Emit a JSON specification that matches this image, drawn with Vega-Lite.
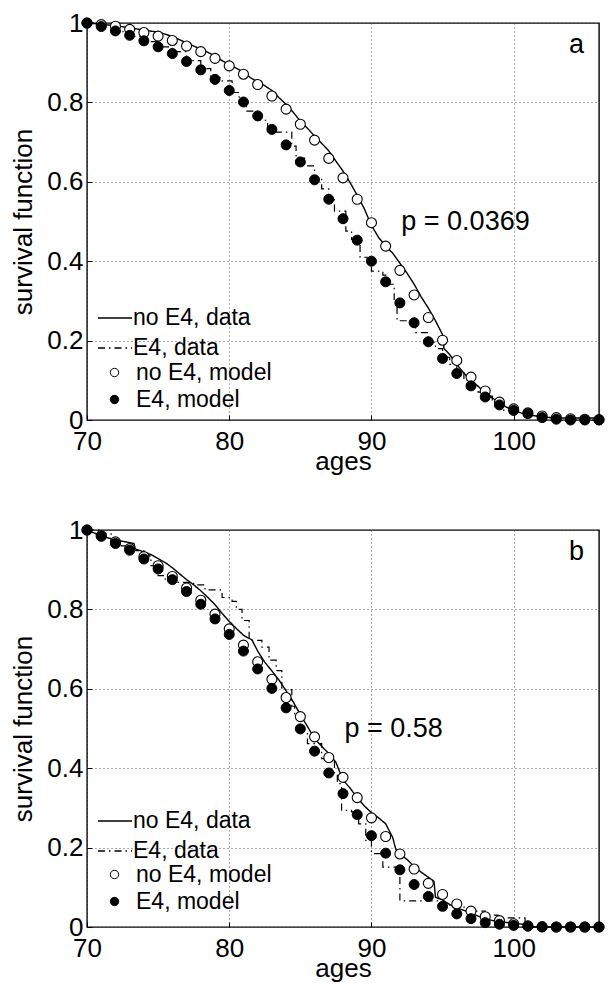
{
  "$schema": "https://vega.github.io/schema/vega-lite/v6.json",
  "background": "white",
  "padding": {"left": 10, "top": 9, "right": 5, "bottom": 5},
  "datasets": {
    "a_nd": [{"age":70,"s":1},{"age":71,"s":0.997},{"age":72,"s":0.993},{"age":73,"s":0.988},{"age":74,"s":0.982},{"age":75,"s":0.977},{"age":75.5,"s":0.972},{"age":76,"s":0.966},{"age":76.5,"s":0.958},{"age":77,"s":0.95},{"age":77.5,"s":0.942},{"age":78,"s":0.934},{"age":78.5,"s":0.926},{"age":79,"s":0.917},{"age":79.5,"s":0.905},{"age":80,"s":0.895},{"age":80.5,"s":0.886},{"age":81,"s":0.876},{"age":81.5,"s":0.862},{"age":82,"s":0.852},{"age":82.5,"s":0.842},{"age":83,"s":0.83},{"age":83.5,"s":0.812},{"age":84,"s":0.795},{"age":84.5,"s":0.775},{"age":85,"s":0.753},{"age":85.5,"s":0.735},{"age":86,"s":0.715},{"age":86.5,"s":0.697},{"age":87,"s":0.678},{"age":87.5,"s":0.652},{"age":88,"s":0.627},{"age":88.5,"s":0.598},{"age":89,"s":0.566},{"age":89.5,"s":0.532},{"age":90,"s":0.49},{"age":90.5,"s":0.46},{"age":91,"s":0.438},{"age":91.5,"s":0.42},{"age":92,"s":0.395},{"age":92.5,"s":0.37},{"age":93,"s":0.342},{"age":93.5,"s":0.31},{"age":94,"s":0.282},{"age":94.5,"s":0.25},{"age":95,"s":0.215},{"age":95.1,"s":0.18},{"age":95.5,"s":0.165},{"age":96,"s":0.14},{"age":96.5,"s":0.118},{"age":97,"s":0.1},{"age":97.5,"s":0.085},{"age":98,"s":0.068},{"age":98.5,"s":0.055},{"age":99,"s":0.045},{"age":99.5,"s":0.032},{"age":100,"s":0.025},{"age":100.5,"s":0.018},{"age":101,"s":0.013},{"age":102,"s":0.008},{"age":103,"s":0.005},{"age":106,"s":0.005}],
    "a_ed": [{"age":70,"s":1},{"age":71,"s":0.99},{"age":72,"s":0.978},{"age":73,"s":0.966},{"age":74,"s":0.953},{"age":75,"s":0.94},{"age":76,"s":0.928},{"age":77,"s":0.905},{"age":78,"s":0.885},{"age":78.7,"s":0.862},{"age":79.5,"s":0.854},{"age":80.2,"s":0.825},{"age":80.7,"s":0.8},{"age":81.2,"s":0.778},{"age":82,"s":0.755},{"age":82.7,"s":0.735},{"age":83.3,"s":0.725},{"age":84.4,"s":0.69},{"age":84.7,"s":0.66},{"age":85.3,"s":0.64},{"age":86,"s":0.61},{"age":86.5,"s":0.582},{"age":87,"s":0.555},{"age":87.4,"s":0.526},{"age":88.2,"s":0.476},{"age":88.6,"s":0.455},{"age":89.2,"s":0.41},{"age":89.7,"s":0.4},{"age":90,"s":0.375},{"age":90.8,"s":0.365},{"age":91.1,"s":0.342},{"age":91.6,"s":0.3},{"age":91.8,"s":0.25},{"age":92.8,"s":0.24},{"age":93.1,"s":0.22},{"age":94,"s":0.196},{"age":94.5,"s":0.18},{"age":95,"s":0.158},{"age":95.5,"s":0.14},{"age":96,"s":0.12},{"age":96.5,"s":0.1},{"age":97,"s":0.085},{"age":97.5,"s":0.07},{"age":98,"s":0.06},{"age":98.5,"s":0.05},{"age":99,"s":0.025},{"age":100,"s":0.02},{"age":101,"s":0.01},{"age":102,"s":0.005},{"age":103,"s":0},{"age":106,"s":0}],
    "a_nm": [{"age":70,"s":1},{"age":71,"s":0.996},{"age":72,"s":0.992},{"age":73,"s":0.984},{"age":74,"s":0.976},{"age":75,"s":0.967},{"age":76,"s":0.956},{"age":77,"s":0.942},{"age":78,"s":0.928},{"age":79,"s":0.911},{"age":80,"s":0.892},{"age":81,"s":0.871},{"age":82,"s":0.845},{"age":83,"s":0.816},{"age":84,"s":0.783},{"age":85,"s":0.745},{"age":86,"s":0.705},{"age":87,"s":0.659},{"age":88,"s":0.61},{"age":89,"s":0.556},{"age":90,"s":0.497},{"age":91,"s":0.438},{"age":92,"s":0.377},{"age":93,"s":0.315},{"age":94,"s":0.258},{"age":95,"s":0.201},{"age":96,"s":0.15},{"age":97,"s":0.108},{"age":98,"s":0.073},{"age":99,"s":0.045},{"age":100,"s":0.028},{"age":101,"s":0.018},{"age":102,"s":0.01},{"age":103,"s":0.006},{"age":104,"s":0.003},{"age":105,"s":0.002},{"age":106,"s":0.001}],
    "a_em": [{"age":70,"s":1},{"age":71,"s":0.991},{"age":72,"s":0.98},{"age":73,"s":0.969},{"age":74,"s":0.955},{"age":75,"s":0.94},{"age":76,"s":0.923},{"age":77,"s":0.903},{"age":78,"s":0.882},{"age":79,"s":0.858},{"age":80,"s":0.83},{"age":81,"s":0.801},{"age":82,"s":0.766},{"age":83,"s":0.732},{"age":84,"s":0.693},{"age":85,"s":0.65},{"age":86,"s":0.605},{"age":87,"s":0.556},{"age":88,"s":0.507},{"age":89,"s":0.453},{"age":90,"s":0.4},{"age":91,"s":0.348},{"age":92,"s":0.295},{"age":93,"s":0.245},{"age":94,"s":0.197},{"age":95,"s":0.155},{"age":96,"s":0.117},{"age":97,"s":0.086},{"age":98,"s":0.058},{"age":99,"s":0.038},{"age":100,"s":0.024},{"age":101,"s":0.016},{"age":102,"s":0.006},{"age":103,"s":0.002},{"age":104,"s":0},{"age":105,"s":0},{"age":106,"s":0}],
    "b_nd": [{"age":70,"s":1},{"age":71,"s":0.985},{"age":72,"s":0.975},{"age":73.3,"s":0.966},{"age":73.4,"s":0.952},{"age":74,"s":0.945},{"age":74.5,"s":0.938},{"age":75,"s":0.928},{"age":75.5,"s":0.918},{"age":76,"s":0.905},{"age":76.5,"s":0.89},{"age":77,"s":0.875},{"age":77.5,"s":0.862},{"age":78,"s":0.847},{"age":78.5,"s":0.83},{"age":79,"s":0.812},{"age":79.5,"s":0.79},{"age":80,"s":0.77},{"age":80.5,"s":0.752},{"age":81,"s":0.735},{"age":81.6,"s":0.723},{"age":82,"s":0.695},{"age":82.5,"s":0.667},{"age":83,"s":0.645},{"age":83.5,"s":0.622},{"age":84,"s":0.595},{"age":84.5,"s":0.567},{"age":85,"s":0.535},{"age":85.5,"s":0.505},{"age":86,"s":0.475},{"age":86.5,"s":0.455},{"age":87,"s":0.437},{"age":87.5,"s":0.415},{"age":88,"s":0.37},{"age":88.5,"s":0.35},{"age":89,"s":0.325},{"age":89.5,"s":0.305},{"age":90,"s":0.288},{"age":90.5,"s":0.275},{"age":91,"s":0.26},{"age":91.5,"s":0.225},{"age":91.7,"s":0.197},{"age":92,"s":0.185},{"age":92.6,"s":0.167},{"age":93,"s":0.152},{"age":93.5,"s":0.138},{"age":94.4,"s":0.115},{"age":94.5,"s":0.075},{"age":95,"s":0.068},{"age":95.8,"s":0.05},{"age":96.5,"s":0.042},{"age":97,"s":0.035},{"age":98,"s":0.02},{"age":99,"s":0.013},{"age":100,"s":0.01},{"age":101,"s":0.005},{"age":101.5,"s":0},{"age":106,"s":0}],
    "b_ed": [{"age":70,"s":1},{"age":71,"s":0.99},{"age":71.7,"s":0.976},{"age":72.3,"s":0.96},{"age":73,"s":0.948},{"age":74,"s":0.935},{"age":74.5,"s":0.91},{"age":75,"s":0.885},{"age":75.5,"s":0.872},{"age":76.3,"s":0.868},{"age":77.5,"s":0.862},{"age":78.3,"s":0.849},{"age":79.5,"s":0.83},{"age":80.2,"s":0.82},{"age":80.5,"s":0.8},{"age":80.9,"s":0.772},{"age":81.4,"s":0.722},{"age":82.3,"s":0.705},{"age":82.8,"s":0.672},{"age":83.3,"s":0.646},{"age":83.7,"s":0.598},{"age":84.4,"s":0.556},{"age":84.6,"s":0.53},{"age":85,"s":0.49},{"age":85.5,"s":0.462},{"age":86.5,"s":0.424},{"age":87.4,"s":0.386},{"age":87.6,"s":0.361},{"age":87.9,"s":0.294},{"age":88.6,"s":0.29},{"age":89.1,"s":0.26},{"age":89.6,"s":0.218},{"age":90,"s":0.185},{"age":90.8,"s":0.151},{"age":92,"s":0.066},{"age":94.7,"s":0.058},{"age":95.5,"s":0.05},{"age":97,"s":0.04},{"age":98,"s":0.03},{"age":98.9,"s":0.023},{"age":100.8,"s":0},{"age":106,"s":0}],
    "b_nm": [{"age":70,"s":1},{"age":71,"s":0.986},{"age":72,"s":0.97},{"age":73,"s":0.953},{"age":74,"s":0.933},{"age":75,"s":0.91},{"age":76,"s":0.883},{"age":77,"s":0.854},{"age":78,"s":0.823},{"age":79,"s":0.788},{"age":80,"s":0.751},{"age":81,"s":0.71},{"age":82,"s":0.668},{"age":83,"s":0.624},{"age":84,"s":0.578},{"age":85,"s":0.53},{"age":86,"s":0.479},{"age":87,"s":0.427},{"age":88,"s":0.377},{"age":89,"s":0.326},{"age":90,"s":0.275},{"age":91,"s":0.228},{"age":92,"s":0.184},{"age":93,"s":0.146},{"age":94,"s":0.11},{"age":95,"s":0.082},{"age":96,"s":0.058},{"age":97,"s":0.04},{"age":98,"s":0.026},{"age":99,"s":0.016},{"age":100,"s":0.008},{"age":101,"s":0.003},{"age":102,"s":0.001},{"age":103,"s":0},{"age":104,"s":0},{"age":105,"s":0},{"age":106,"s":0}],
    "b_em": [{"age":70,"s":1},{"age":71,"s":0.984},{"age":72,"s":0.966},{"age":73,"s":0.949},{"age":74,"s":0.927},{"age":75,"s":0.902},{"age":76,"s":0.875},{"age":77,"s":0.845},{"age":78,"s":0.813},{"age":79,"s":0.776},{"age":80,"s":0.737},{"age":81,"s":0.695},{"age":82,"s":0.65},{"age":83,"s":0.601},{"age":84,"s":0.552},{"age":85,"s":0.499},{"age":86,"s":0.443},{"age":87,"s":0.388},{"age":88,"s":0.336},{"age":89,"s":0.283},{"age":90,"s":0.23},{"age":91,"s":0.186},{"age":92,"s":0.144},{"age":93,"s":0.107},{"age":94,"s":0.077},{"age":95,"s":0.052},{"age":96,"s":0.033},{"age":97,"s":0.021},{"age":98,"s":0.011},{"age":99,"s":0.007},{"age":100,"s":0.004},{"age":101,"s":0.002},{"age":102,"s":0},{"age":103,"s":0},{"age":104,"s":0},{"age":105,"s":0},{"age":106,"s":0}]
  },
  "vconcat": [
    {
      "width": 512, "height": 397,
      "layer": [
        {"data": {"name": "a_nd"},
         "mark": {"type": "line", "interpolate": "linear", "color": "black", "strokeWidth": 1.4},
         "encoding": {
           "x": {"field": "age", "type": "quantitative", "scale": {"domain": [70, 106], "nice": false, "zero": false}, "axis": {"values": [70, 80, 90, 100]}, "title": "ages"},
           "y": {"field": "s", "type": "quantitative", "scale": {"domain": [0, 1], "nice": false}, "axis": {"values": [0, 0.2, 0.4, 0.6, 0.8, 1], "format": "~g"}, "title": "survival function"},
           "strokeDash": {"datum": "no E4, data", "type": "nominal",
             "scale": {"domain": ["no E4, data", "E4, data"], "range": [[1, 0], [7, 4, 1.5, 4]]},
             "legend": {"title": null, "orient": "none", "legendX": 10, "legendY": 277, "labelFontSize": 23, "labelFont": "Liberation Sans", "labelColor": "black", "symbolType": "stroke", "symbolSize": 1156, "symbolStrokeColor": "black", "symbolStrokeWidth": 1.3, "labelOffset": 0, "rowPadding": -2}}
         }},
        {"data": {"name": "a_ed"},
         "mark": {"type": "line", "interpolate": "step-after", "color": "black", "strokeWidth": 1.2},
         "encoding": {
           "x": {"field": "age", "type": "quantitative"},
           "y": {"field": "s", "type": "quantitative"},
           "strokeDash": {"datum": "E4, data", "type": "nominal"}
         }},
        {"data": {"name": "a_nm"},
         "mark": {"type": "circle", "stroke": "black", "strokeWidth": 1.1, "size": 100, "opacity": 1, "fillOpacity": 1},
         "encoding": {
           "x": {"field": "age", "type": "quantitative"},
           "y": {"field": "s", "type": "quantitative"},
           "fill": {"datum": "no E4, model", "type": "nominal",
             "scale": {"domain": ["no E4, model", "E4, model"], "range": ["white", "black"]},
             "legend": {"title": null, "orient": "none", "legendX": 16, "legendY": 338, "labelFontSize": 23, "labelFont": "Liberation Sans", "labelColor": "black", "symbolType": "circle", "symbolSize": 70, "symbolStrokeColor": "black", "symbolStrokeWidth": 1, "symbolOpacity": 1, "labelOffset": 10, "rowPadding": 3}}
         }},
        {"data": {"name": "a_em"},
         "mark": {"type": "circle", "stroke": "black", "strokeWidth": 1, "size": 100, "opacity": 1, "fillOpacity": 1},
         "encoding": {
           "x": {"field": "age", "type": "quantitative"},
           "y": {"field": "s", "type": "quantitative"},
           "fill": {"datum": "E4, model", "type": "nominal"}
         }},
        {"data": {"values": [{}]},
         "mark": {"type": "text", "text": "p = 0.0369", "fontSize": 27, "font": "Liberation Sans", "align": "left", "baseline": "middle", "color": "black"},
         "encoding": {"x": {"datum": 92.1, "type": "quantitative"}, "y": {"datum": 0.5, "type": "quantitative"}}},
        {"data": {"values": [{}]},
         "mark": {"type": "text", "text": "a", "fontSize": 27, "font": "Liberation Sans", "align": "right", "baseline": "alphabetic", "color": "black"},
         "encoding": {"x": {"datum": 104.95, "type": "quantitative"}, "y": {"datum": 0.925, "type": "quantitative"}}}
      ]
    },
    {
      "width": 512, "height": 397,
      "layer": [
        {"data": {"name": "b_nd"},
         "mark": {"type": "line", "interpolate": "linear", "color": "black", "strokeWidth": 1.4},
         "encoding": {
           "x": {"field": "age", "type": "quantitative", "scale": {"domain": [70, 106], "nice": false, "zero": false}, "axis": {"values": [70, 80, 90, 100]}, "title": "ages"},
           "y": {"field": "s", "type": "quantitative", "scale": {"domain": [0, 1], "nice": false}, "axis": {"values": [0, 0.2, 0.4, 0.6, 0.8, 1], "format": "~g"}, "title": "survival function"},
           "strokeDash": {"datum": "no E4, data", "type": "nominal",
             "scale": {"domain": ["no E4, data", "E4, data"], "range": [[1, 0], [7, 4, 1.5, 4]]},
             "legend": {"title": null, "orient": "none", "legendX": 10, "legendY": 273, "labelFontSize": 23, "labelFont": "Liberation Sans", "labelColor": "black", "symbolType": "stroke", "symbolSize": 1156, "symbolStrokeColor": "black", "symbolStrokeWidth": 1.3, "labelOffset": 0, "rowPadding": -2}}
         }},
        {"data": {"name": "b_ed"},
         "mark": {"type": "line", "interpolate": "step-after", "color": "black", "strokeWidth": 1.2},
         "encoding": {
           "x": {"field": "age", "type": "quantitative"},
           "y": {"field": "s", "type": "quantitative"},
           "strokeDash": {"datum": "E4, data", "type": "nominal"}
         }},
        {"data": {"name": "b_nm"},
         "mark": {"type": "circle", "stroke": "black", "strokeWidth": 1.1, "size": 100, "opacity": 1, "fillOpacity": 1},
         "encoding": {
           "x": {"field": "age", "type": "quantitative"},
           "y": {"field": "s", "type": "quantitative"},
           "fill": {"datum": "no E4, model", "type": "nominal",
             "scale": {"domain": ["no E4, model", "E4, model"], "range": ["white", "black"]},
             "legend": {"title": null, "orient": "none", "legendX": 16, "legendY": 333, "labelFontSize": 23, "labelFont": "Liberation Sans", "labelColor": "black", "symbolType": "circle", "symbolSize": 70, "symbolStrokeColor": "black", "symbolStrokeWidth": 1, "symbolOpacity": 1, "labelOffset": 10, "rowPadding": 3}}
         }},
        {"data": {"name": "b_em"},
         "mark": {"type": "circle", "stroke": "black", "strokeWidth": 1, "size": 100, "opacity": 1, "fillOpacity": 1},
         "encoding": {
           "x": {"field": "age", "type": "quantitative"},
           "y": {"field": "s", "type": "quantitative"},
           "fill": {"datum": "E4, model", "type": "nominal"}
         }},
        {"data": {"values": [{}]},
         "mark": {"type": "text", "text": "p = 0.58", "fontSize": 27, "font": "Liberation Sans", "align": "left", "baseline": "middle", "color": "black"},
         "encoding": {"x": {"datum": 88.1, "type": "quantitative"}, "y": {"datum": 0.5, "type": "quantitative"}}},
        {"data": {"values": [{}]},
         "mark": {"type": "text", "text": "b", "fontSize": 27, "font": "Liberation Sans", "align": "right", "baseline": "alphabetic", "color": "black"},
         "encoding": {"x": {"datum": 104.95, "type": "quantitative"}, "y": {"datum": 0.925, "type": "quantitative"}}}
      ]
    }
  ],
  "spacing": 41,
  "resolve": {"scale": {"strokeDash": "independent", "fill": "independent"}, "legend": {"strokeDash": "independent", "fill": "independent"}},
  "config": {
    "font": "Liberation Sans",
    "view": {"stroke": "black", "strokeWidth": 1.4},
    "axis": {
      "labelFont": "Liberation Sans", "labelFontSize": 26, "labelColor": "black",
      "titleFont": "Liberation Sans", "titleFontSize": 26, "titleFontWeight": "normal", "titleColor": "black",
      "domain": false, "ticks": true, "tickSize": -5, "tickColor": "black", "tickWidth": 1,
      "grid": true, "gridColor": "#555", "gridDash": [1, 3], "gridWidth": 1, "gridOpacity": 1,
      "labelFlush": false, "labelOverlap": false
    },
    "axisX": {"labelPadding": 13, "titlePadding": -6},
    "axisY": {"labelPadding": 9, "titlePadding": 10}
  }
}
